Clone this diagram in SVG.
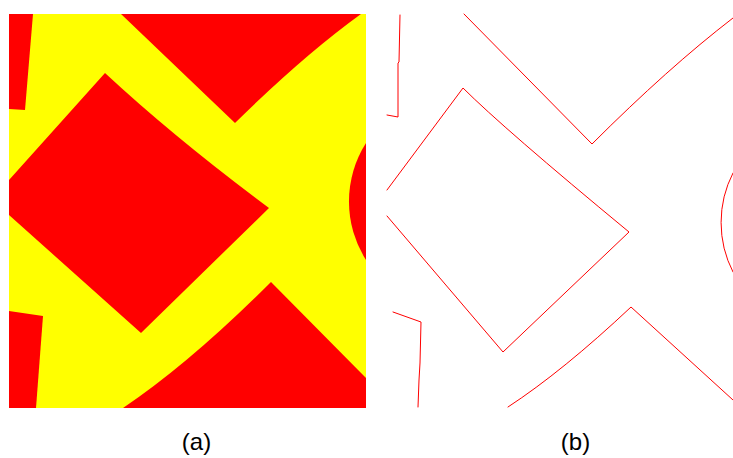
<svg xmlns="http://www.w3.org/2000/svg" width="733" height="458" viewBox="0 0 733 458">
  <style>
    .fill-red { fill: #ff0000; stroke: none; }
    .edge { fill: none; stroke: #ff0000; stroke-width: 1; stroke-linejoin: round; stroke-linecap: round; }
    .label { font-family: "Liberation Sans", Arial, Helvetica, sans-serif; font-size: 24px; fill: #000000; text-anchor: middle; }
  </style>
  <rect x="0" y="0" width="733" height="458" fill="#ffffff"/>

  <!-- Panel (a): segmented regions -->
  <g id="panel-a">
    <rect x="9" y="14" width="357" height="394" fill="#ffff00"/>
    <!-- strip at top-left -->
    <polygon class="fill-red" points="9,14 33,14 25,110 9,109"/>
    <!-- top wedge -->
    <path class="fill-red" d="M121,14 L235,123 Q303,56 361,14 Z"/>
    <!-- central diamond, clipped by the left border -->
    <path class="fill-red" d="M9,180 L105,73 Q175,138 269,208 L141,333 L9,215 Z"/>
    <!-- disk segment on the right border -->
    <path class="fill-red" d="M366,143 A109,109 0 0 0 366,260 Z"/>
    <!-- strip at bottom-left -->
    <polygon class="fill-red" points="9,311 43,316 36,408 9,408"/>
    <!-- bottom arch -->
    <path class="fill-red" d="M123,408 Q190,363 271,282 L366,378 L366,408 Z"/>
  </g>

  <!-- Panel (b): region boundaries -->
  <g id="panel-b">
    <polyline class="edge" points="400,15 399,62 398,63 398,117 387,115"/>
    <path class="edge" d="M464,14 L592,144 Q668,68 733,18"/>
    <path class="edge" d="M387,190 L463,88 Q503,128 629,232 L503,352 L387,216"/>
    <path class="edge" d="M733,173 A108,108 0 0 0 733,272"/>
    <polyline class="edge" points="393,312 421,322 420,363 419,380 418,407"/>
    <path class="edge" d="M508,407 Q563,371 631,307 L733,400"/>
  </g>

  <g id="labels">
    <text class="label" x="196.5" y="450">(a)</text>
    <text class="label" x="575.5" y="450">(b)</text>
  </g>
</svg>
